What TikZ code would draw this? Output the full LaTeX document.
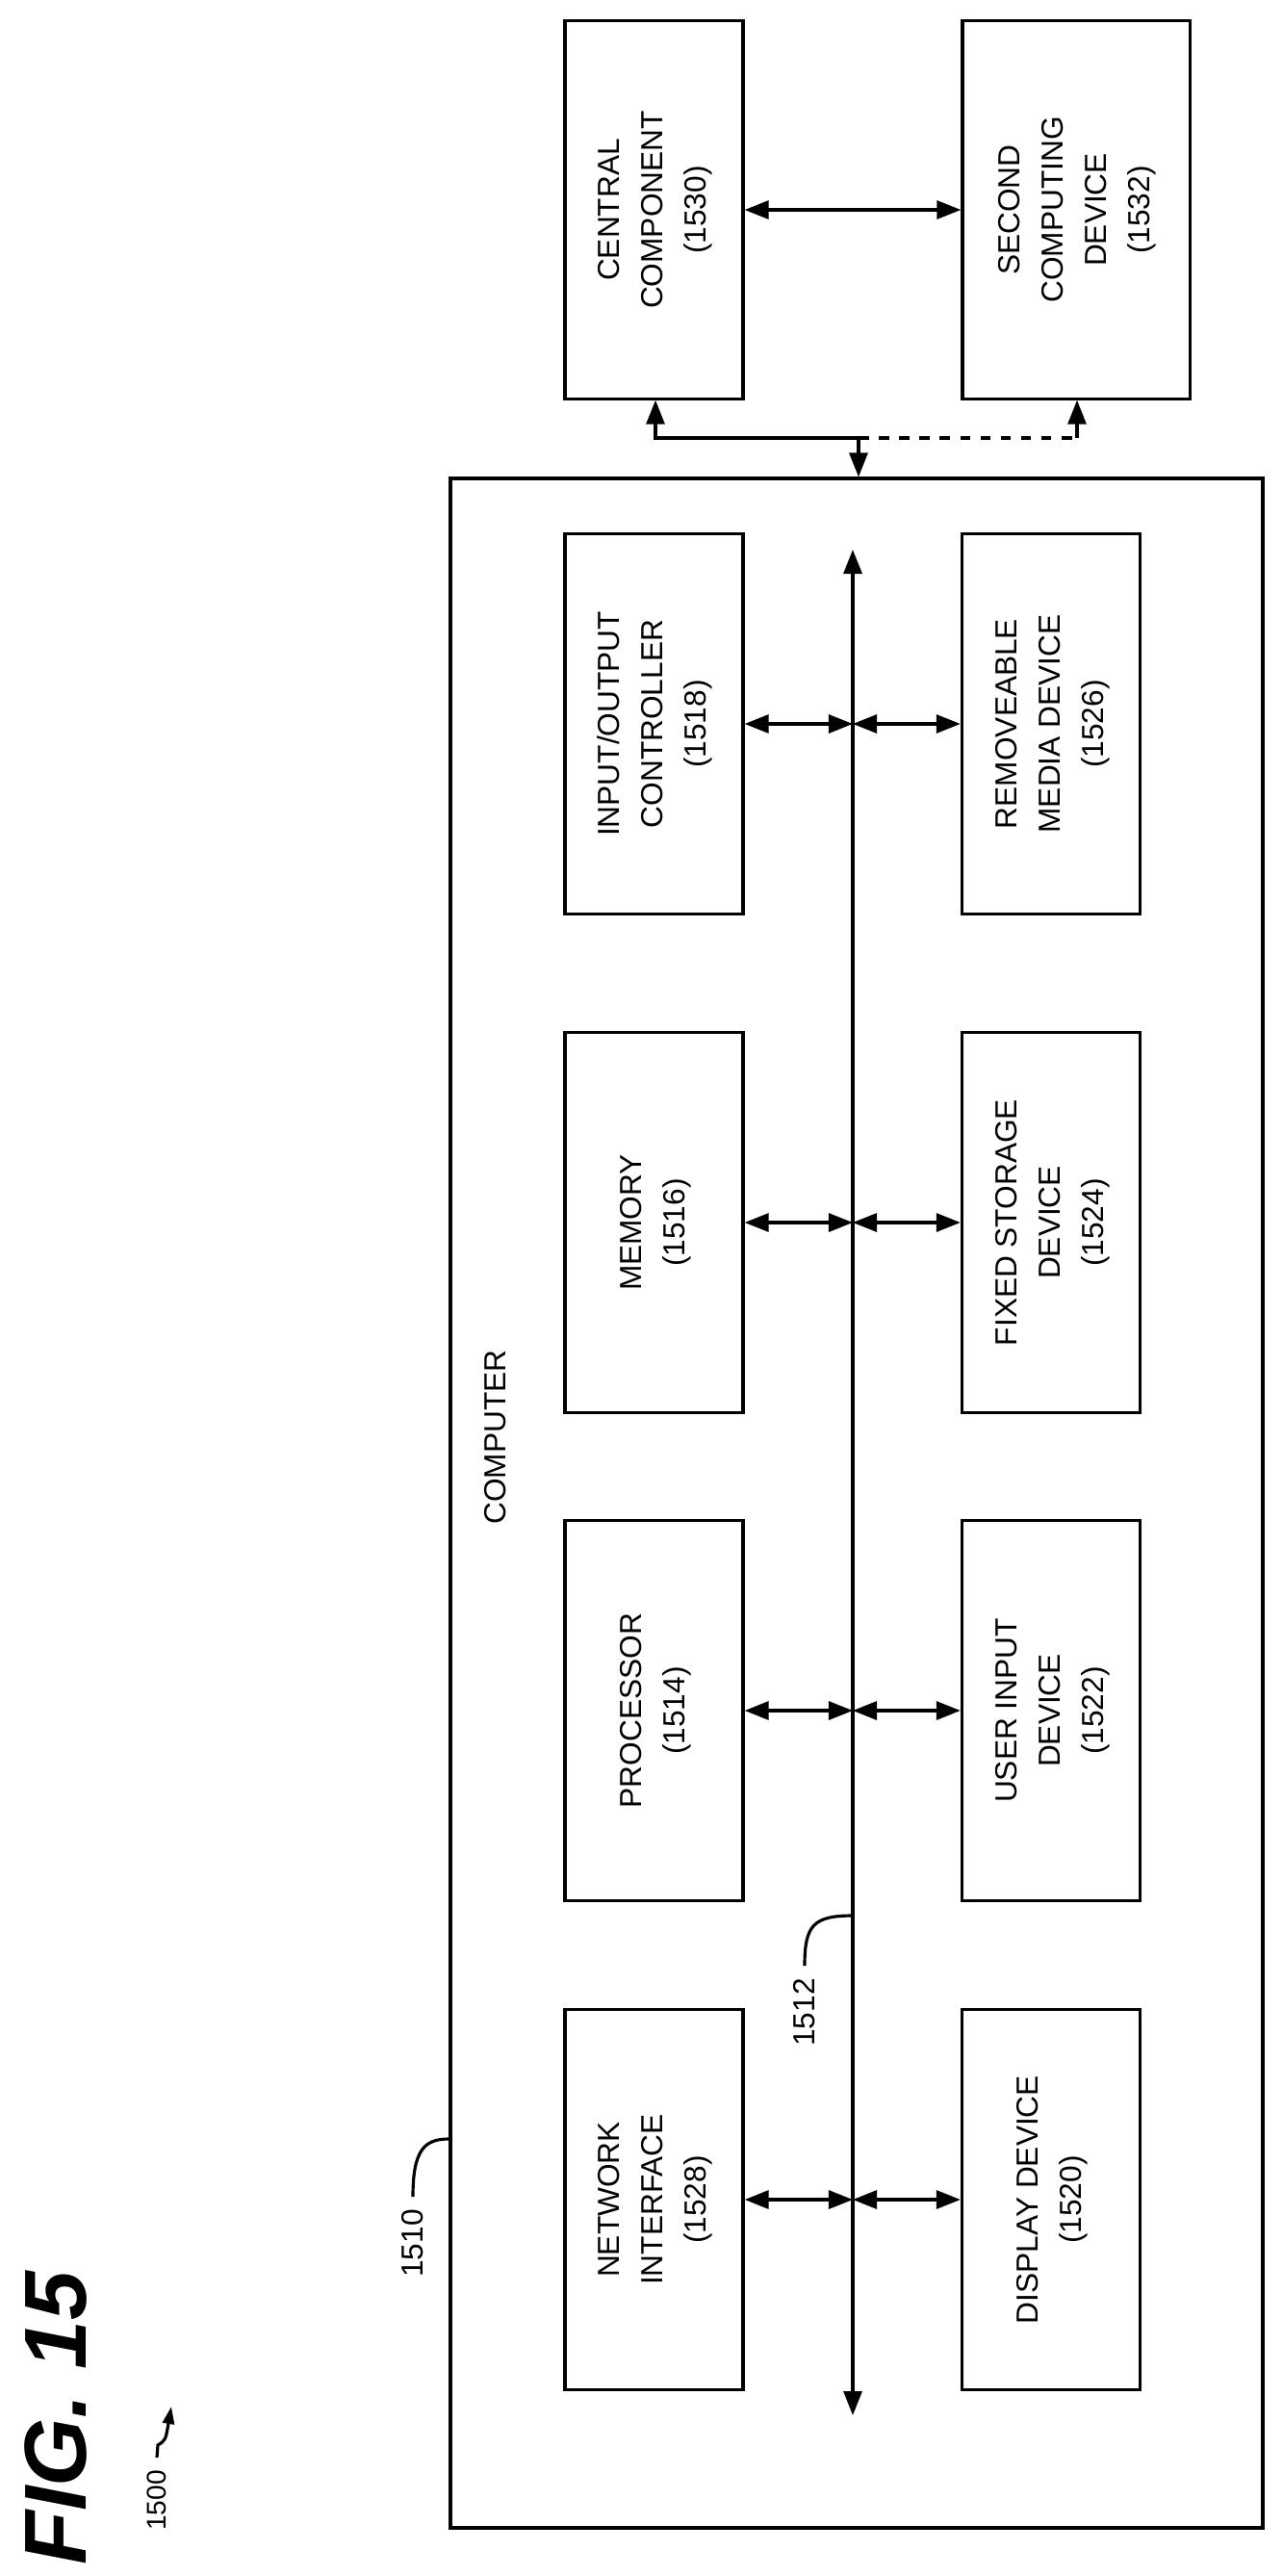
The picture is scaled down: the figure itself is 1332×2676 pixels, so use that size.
\documentclass[tikz,border=0pt]{standalone}
\usepackage{fontspec}
\setmainfont{Liberation Sans}
\usetikzlibrary{arrows.meta}
\begin{document}
\begin{tikzpicture}[x=0.01cm,y=-0.01cm,line width=0.9pt,
  tip/.style={-{Triangle[length=0.25cm,width=0.19cm]}},
  dtip/.style={{Triangle[length=0.25cm,width=0.19cm]}-{Triangle[length=0.25cm,width=0.19cm]}},
  box/.style={draw,rectangle,minimum width=1.85cm,minimum height=3.95cm,inner sep=0pt,font=\fontsize{9}{12.8}\selectfont},
  lbl/.style={font=\fontsize{9}{12.8}\selectfont,rotate=90}]
\useasboundingbox (0,0) rectangle (1332,2676);
\newcommand{\rt}[1]{\rotatebox{90}{\begin{tabular}{@{}c@{}}#1\end{tabular}}}
% top boxes
\node[box,minimum height=3.92cm] (cc) at (679.5,218) {\rt{CENTRAL\\COMPONENT\\(1530)}};
\node[box,minimum height=3.92cm,minimum width=2.36cm] (sc) at (1118,218) {\rt{SECOND\\COMPUTING\\DEVICE\\(1532)}};
\draw[dtip] (cc.east) -- (sc.west);
% computer
\node[draw,rectangle,line width=1.1pt,minimum width=8.44cm,minimum height=21.27cm,inner sep=0pt] (comp) at (890,1561.5) {};
\node[lbl] (complbl) at (515,1493) {COMPUTER};
\coordinate (j) at (892,455);
\coordinate (jl) at (681,455);
\coordinate (jr) at (1119,455);
\draw[tip] (j) -- (jl) -- (cc.south -| jl);
\draw[dashed] (j) -- (jr);
\draw[tip] (jr) -- (sc.south -| jr);
\draw[tip] (j) -- (comp.north -| j);
% inner boxes
\node[box] (io) at (679.5,752) {\rt{INPUT/OUTPUT\\CONTROLLER\\(1518)}};
\node[box] (mem) at (679.5,1270) {\rt{MEMORY\\(1516)}};
\node[box] (proc) at (679.5,1777) {\rt{PROCESSOR\\(1514)}};
\node[box] (net) at (679.5,2285) {\rt{NETWORK\\INTERFACE\\(1528)}};
\node[box] (rem) at (1092,752) {\rt{REMOVEABLE\\MEDIA DEVICE\\(1526)}};
\node[box] (fix) at (1092,1270) {\rt{FIXED STORAGE\\DEVICE\\(1524)}};
\node[box] (usr) at (1092,1777) {\rt{USER INPUT\\DEVICE\\(1522)}};
\node[box] (dis) at (1092,2285) {\rt{DISPLAY DEVICE\\(1520)}};
% bus
\coordinate (bt) at (886,571);
\coordinate (bb) at (886,2509);
\draw[dtip] (bt) -- (bb);
\foreach \a/\b in {io/rem,mem/fix,proc/usr,net/dis}{
  \draw[dtip] (\a.east) -- (\a.east -| bt);
  \draw[dtip] (\a.east -| bt) -- (\b.west);
}
% reference labels
\node[lbl,anchor=east] (l1510) at (429,2282) {1510};
\draw (l1510.east) .. controls (429,2235) and (440,2222) .. (comp.west |- 0,2222);
\coordinate (b1512) at (886,1990);
\node[lbl,anchor=east] (l1512) at (836,2042) {1512};
\draw (l1512.east) .. controls (836,2000) and (845,1990) .. (b1512);
\node[rotate=90,font=\fontsize{26}{30}\selectfont\bfseries\itshape,anchor=center] (fig) at (58,2512) {FIG. 15};
\node[lbl,anchor=east,font=\fontsize{8}{9}\selectfont] (l1500) at (163,2553) {1500};
\coordinate (a1500) at (178,2500);
\draw[-{Triangle[length=0.18cm,width=0.12cm]}] (l1500.east) -- (164,2540) .. controls (172,2535) .. (a1500);
\end{tikzpicture}
\end{document}
